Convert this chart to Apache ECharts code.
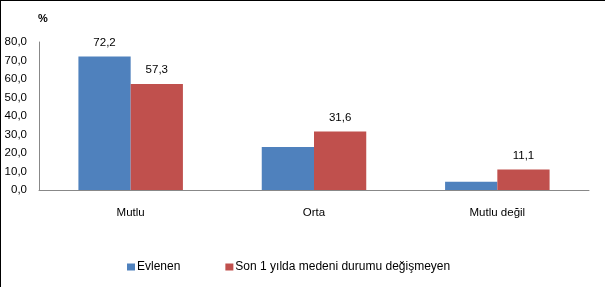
<!DOCTYPE html>
<html><head><meta charset="utf-8">
<script src="https://cdn.jsdelivr.net/npm/echarts@6/dist/echarts.min.js"></script>
<style>html,body{margin:0;padding:0;background:#fff}#c{width:605px;height:287px}</style>
</head><body><div id="c"></div>
<script>
const categories = ['Mutlu', 'Orta', 'Mutlu değil'];
const seriesNames = ['Evlenen', 'Son 1 yılda medeni durumu değişmeyen'];
const evlenen = [72.2, 23.2, 4.5];
const degismeyen = [57.3, 31.6, 11.1];
const evlenenLabelShown = [true, false, false];
const yTicks = [0, 10, 20, 30, 40, 50, 60, 70, 80];

const fmt = v => v.toFixed(1).replace('.', ',');
const font = 'Liberation Sans, Arial, sans-serif';
const chart = echarts.init(document.getElementById('c'), null, {renderer: 'canvas'});
chart.setOption({
  animation: false,
  backgroundColor: '#fff',
  textStyle: {fontFamily: font},
  grid: {left: 39, right: 16, top: 42, bottom: 97},
  legend: {
    data: seriesNames, left: 122, top: 256, itemWidth: 8, itemHeight: 7, itemGap: 45,
    icon: 'rect', textStyle: {fontFamily: font, fontSize: 12, color: '#000', padding: [0,0,0,-3]}
  },
  xAxis: {
    type: 'category', data: categories,
    axisLine: {lineStyle: {color: '#888', width: 1}}, axisTick: {show: false},
    axisLabel: {color: '#000', fontSize: 11.5, margin: 17, fontFamily: font}
  },
  yAxis: {
    type: 'value', min: yTicks[0], max: yTicks[yTicks.length - 1], interval: 10,
    name: '%', nameGap: 18, nameTextStyle: {color: '#000', fontSize: 11, fontWeight: 'bold', align: 'left', padding: [0,0,0,-1]},
    axisLine: {show: true, lineStyle: {color: '#888', width: 1}}, axisTick: {show: false},
    splitLine: {show: false},
    axisLabel: {color: '#000', fontSize: 11.5, margin: 12, fontFamily: font, formatter: v => fmt(v)}
  },
  series: [
    {name: seriesNames[0], type: 'bar', barGap: '0%', barCategoryGap: '43%', itemStyle: {color: '#4f81bd'},
     data: evlenen.map((v, i) => ({value: v, label: {show: evlenenLabelShown[i]}})),
     label: {position: 'top', distance: 8, color: '#000', fontSize: 11.5, fontFamily: font, formatter: p => fmt(p.value)}},
    {name: seriesNames[1], type: 'bar', itemStyle: {color: '#c0504d'},
     data: degismeyen,
     label: {show: true, position: 'top', distance: 8, color: '#000', fontSize: 11.5, fontFamily: font, formatter: p => fmt(p.value)}}
  ],
  graphic: [
    {type: 'rect', shape: {x: 0, y: 0, width: 605, height: 1}, style: {fill: '#000'}, silent: true},
    {type: 'rect', shape: {x: 0, y: 0, width: 1, height: 287}, style: {fill: '#000'}, silent: true}
  ]
});
</script></body></html>
